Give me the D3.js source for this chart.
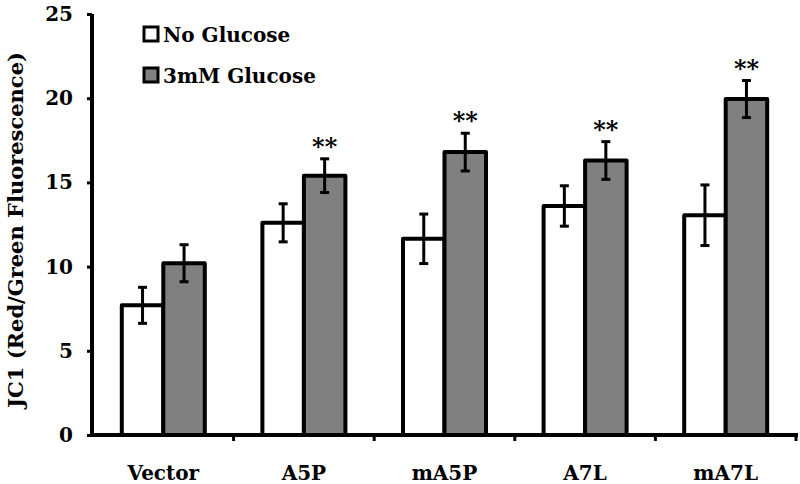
<!DOCTYPE html>
<html><head><meta charset="utf-8">
<script src="https://cdn.jsdelivr.net/npm/d3@7"></script>
<style>body{margin:0;background:#fff}svg{display:block}</style>
</head><body>
<svg id="c" width="800" height="484"></svg>
<script>
const categories = ["Vector","A5P","mA5P","A7L","mA7L"];
const seriesNames = ["No Glucose","3mM Glucose"];
const noGlucose = [7.7, 12.6, 11.65, 13.6, 13.05];
const noGlucoseErr = [1.07, 1.13, 1.47, 1.2, 1.8];
const glucose = [10.2, 15.4, 16.8, 16.3, 19.95];
const glucoseErr = [1.1, 1.0, 1.12, 1.12, 1.1];
const significance = ["", "**", "**", "**", "**"];
const yTicks = [0,5,10,15,20,25];

const svg = d3.select("#c");
const font = "'DejaVu Serif', serif";
const y = d3.scaleLinear().domain([0,25]).range([435,14]);
const x0 = d3.scaleBand().domain(categories).range([93,796]).paddingInner(0).paddingOuter(0);
const inner = 83;
const x1 = d3.scaleBand().domain(seriesNames).range([0,inner]);
const fills = ["#ffffff","#808080"];
const vals = [noGlucose, glucose];
const errs = [noGlucoseErr, glucoseErr];

// bars
categories.forEach((c,i)=>{
  const g = svg.append("g").attr("transform",`translate(${x0(c)+(x0.bandwidth()-inner)/2},0)`);
  seriesNames.forEach((s,j)=>{
    const v = vals[j][i], e = errs[j][i];
    g.append("rect").attr("x",x1(s)).attr("y",y(v)).attr("width",x1.bandwidth()).attr("height",y(0)-y(v))
      .attr("fill",fills[j]).attr("stroke","#000").attr("stroke-width",4).attr("stroke-linejoin","round");
    const cx = x1(s)+x1.bandwidth()/2;
    g.append("line").attr("x1",cx).attr("x2",cx).attr("y1",y(v+e)).attr("y2",y(v-e)).attr("stroke","#000").attr("stroke-width",3);
    [v+e, v-e].forEach(t=>g.append("line").attr("x1",cx-4.5).attr("x2",cx+4.5).attr("y1",y(t)).attr("y2",y(t)).attr("stroke","#000").attr("stroke-width",3));
    if(j===1 && significance[i]){
      g.append("text").attr("x",cx).attr("y",y(v+e)-4).attr("text-anchor","middle")
        .attr("font-family",font).attr("font-weight","bold").attr("font-size",24).text(significance[i]);
    }
  });
});

// y axis
const yAxis = d3.axisLeft(y).tickValues(yTicks).tickSize(5).tickPadding(14).tickFormat(d3.format("d"));
const ya = svg.append("g").attr("transform","translate(92,0)").call(yAxis);
ya.select(".domain").attr("d","M0,14V437").attr("stroke-width",4);
ya.selectAll(".tick line").attr("stroke-width",3);
ya.selectAll("text").attr("font-family",font).attr("font-weight","bold").attr("font-size",20).attr("fill","#000");

// x axis
const xAxis = d3.axisBottom(x0).tickSize(0).tickPadding(31);
const xa = svg.append("g").attr("transform","translate(0,435)").call(xAxis);
xa.select(".domain").attr("d","M90,0H798").attr("stroke-width",4);
xa.selectAll("text").attr("font-family",font).attr("font-weight","bold").attr("font-size",20).attr("fill","#000");
categories.forEach(c=>{
  xa.append("line").attr("x1",x0(c)+x0.bandwidth()).attr("x2",x0(c)+x0.bandwidth()).attr("y1",0).attr("y2",6).attr("stroke","#000").attr("stroke-width",3);
});

// y label
svg.append("text").attr("transform","translate(23,230) rotate(-90)").attr("text-anchor","middle")
  .attr("font-family",font).attr("font-weight","bold").attr("font-size",21).text("JC1 (Red/Green Fluorescence)");

// legend
seriesNames.forEach((s,j)=>{
  const ly = 27 + j*41;
  svg.append("rect").attr("x",144).attr("y",ly).attr("width",14).attr("height",14).attr("fill",fills[j]).attr("stroke","#000").attr("stroke-width",3);
  svg.append("text").attr("x",163).attr("y",ly+15).attr("font-family",font).attr("font-weight","bold").attr("font-size",20).text(s);
});
</script>
</body></html>
